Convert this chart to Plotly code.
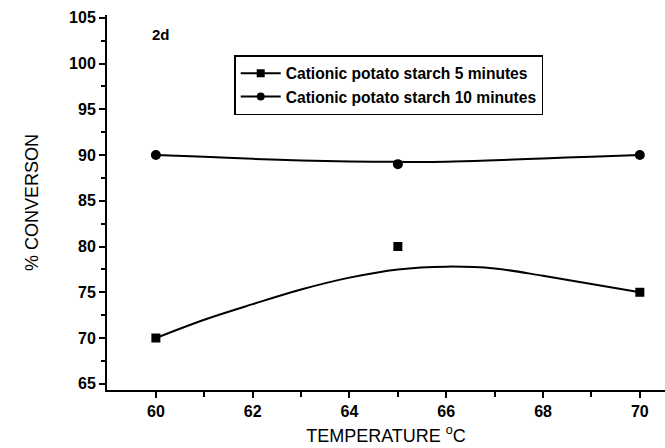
import plotly.graph_objects as go

# Measured conversion at each reaction temperature
temperature = [60, 65, 70]
conv_5min = [70, 80, 75]
conv_10min = [90, 89, 90]

# Smoothed trend lines drawn through the measurements
trend_x = [60, 61, 62, 63, 64, 65, 66, 67, 68, 69, 70]
trend_5min = [70.0, 72.0, 73.7, 75.3, 76.6, 77.5, 77.8, 77.6, 76.8, 75.9, 75.0]
trend_10min = [90.0, 89.8, 89.58, 89.4, 89.28, 89.25, 89.27, 89.42, 89.62, 89.82, 90.0]

series_names = ["Cationic potato starch 5 minutes", "Cationic potato starch 10 minutes"]

FONT = "Liberation Sans, Arial, sans-serif"

fig = go.Figure()

# trend curves
fig.add_trace(go.Scatter(x=trend_x, y=trend_5min, mode="lines", line=dict(color="black", width=2, shape="spline"),
                         showlegend=False, hoverinfo="skip"))
fig.add_trace(go.Scatter(x=trend_x, y=trend_10min, mode="lines", line=dict(color="black", width=2, shape="spline"),
                         showlegend=False, hoverinfo="skip"))

# measured points
fig.add_trace(go.Scatter(x=temperature, y=conv_5min, mode="markers",
                         marker=dict(symbol="square", size=9, color="black"), showlegend=False))
fig.add_trace(go.Scatter(x=temperature, y=conv_10min, mode="markers",
                         marker=dict(symbol="circle", size=10, color="black"), showlegend=False))

# legend entries (line + marker)
fig.add_trace(go.Scatter(x=[None], y=[None], mode="lines+markers", name=series_names[0],
                         line=dict(color="black", width=2), marker=dict(symbol="square", size=8, color="black")))
fig.add_trace(go.Scatter(x=[None], y=[None], mode="lines+markers", name=series_names[1],
                         line=dict(color="black", width=2), marker=dict(symbol="circle", size=8, color="black")))

fig.add_annotation(x=0.097, y=0.947, xref="paper", yref="paper", text="2d", showarrow=False,
                   xanchor="center", yanchor="middle", font=dict(family=FONT, size=15, color="black", weight="bold"))

fig.update_layout(
    width=665, height=448,
    margin=dict(l=107, r=0, t=15, b=58),
    paper_bgcolor="white", plot_bgcolor="white",
    font=dict(family=FONT, color="black"),
    legend=dict(x=0.228, y=0.893, xanchor="left", yanchor="top",
                bordercolor="black", borderwidth=1.5, bgcolor="white",
                font=dict(family=FONT, size=15.6, color="black", weight="bold"),
                tracegroupgap=0, itemwidth=40),
    xaxis=dict(range=[58.99, 70.52], tickvals=[60, 62, 64, 66, 68, 70],
               showgrid=False, zeroline=False, showline=True, linecolor="black", linewidth=2,
               ticks="outside", ticklen=6, tickwidth=2, tickcolor="black",
               minor=dict(tickvals=[61, 63, 65, 67, 69], ticks="outside", ticklen=5, tickwidth=2, tickcolor="black"),
               tickfont=dict(family=FONT, size=16, color="black", weight="bold"),
               title=dict(text="TEMPERATURE <sup>o</sup>C", font=dict(family=FONT, size=18, color="black"), standoff=10)),
    yaxis=dict(range=[64.32, 105.3], tickvals=[65, 70, 75, 80, 85, 90, 95, 100, 105],
               showgrid=False, zeroline=False, showline=True, linecolor="black", linewidth=2,
               ticks="outside", ticklen=6, tickwidth=2, tickcolor="black",
               minor=dict(tickvals=[67.5, 72.5, 77.5, 82.5, 87.5, 92.5, 97.5, 102.5], ticks="outside",
                          ticklen=4, tickwidth=1.5, tickcolor="black"),
               tickfont=dict(family=FONT, size=16, color="black", weight="bold"),
               title=dict(text="% CONVERSON", font=dict(family=FONT, size=18, color="black"), standoff=26)),
)

fig.write_html("out.html")
